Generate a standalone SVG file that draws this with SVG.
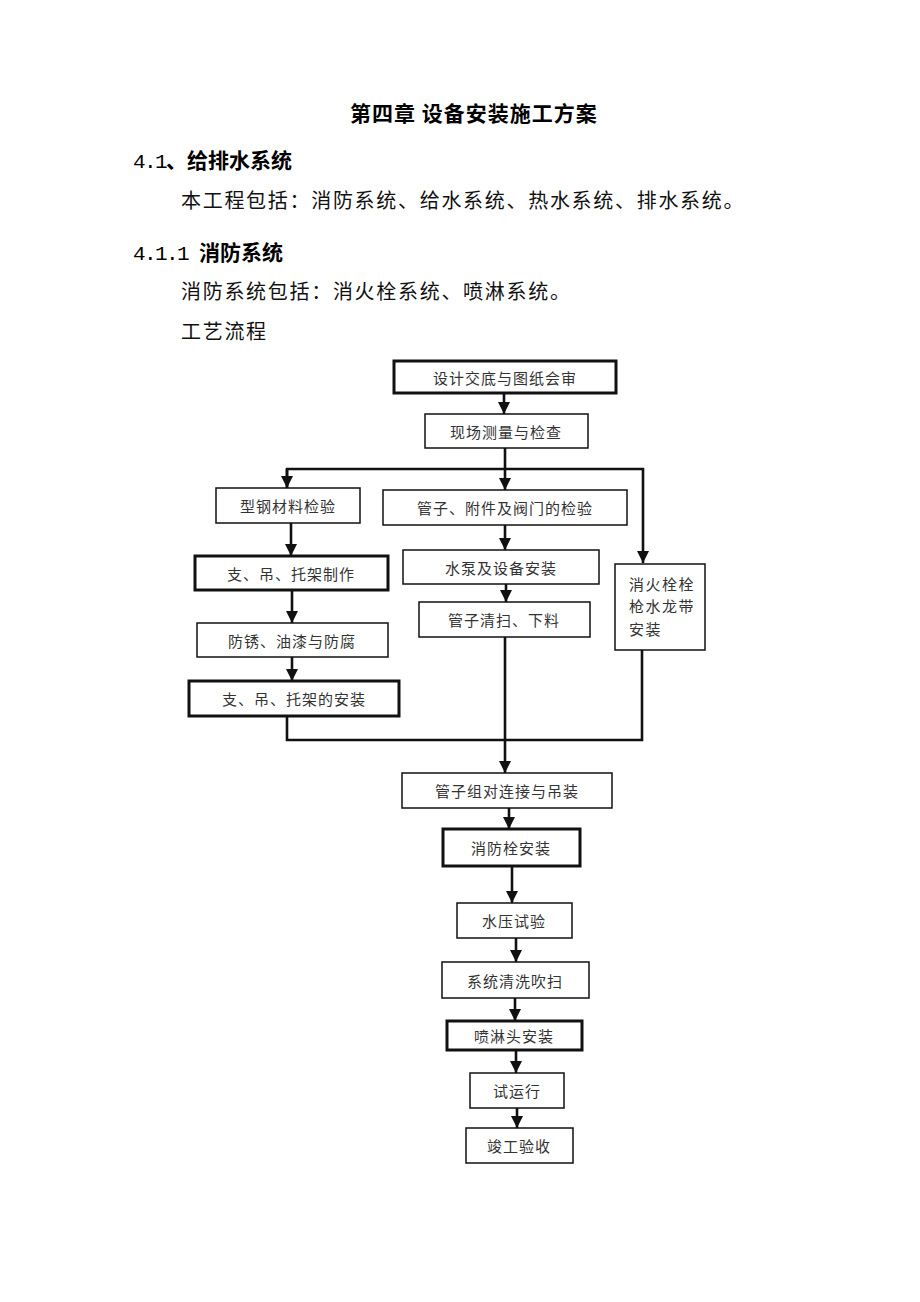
<svg xmlns="http://www.w3.org/2000/svg" width="920" height="1302" viewBox="0 0 920 1302">
<style>
.bg{fill:#ffffff}
.h{font-family:"Noto Sans CJK SC","Liberation Serif",sans-serif;font-size:21px;font-weight:bold;fill:#000}
.ttl{letter-spacing:1px}
.p{font-family:"Noto Sans CJK SC","Liberation Serif",sans-serif;font-size:20px;letter-spacing:1.7px;fill:#111}
.num{font-family:"Liberation Mono","Noto Sans CJK SC",monospace;font-size:21px;font-weight:normal;letter-spacing:-1.6px}
.box{fill:#fff;stroke:#111;stroke-width:1.5}
.tbox{fill:#fff;stroke:#111;stroke-width:3}
.t{font-family:"Noto Sans CJK SC",sans-serif;font-size:15px;letter-spacing:1px;fill:#333;text-anchor:middle;dominant-baseline:central}
.tl{font-family:"Noto Sans CJK SC",sans-serif;font-size:15px;letter-spacing:1.5px;fill:#333;dominant-baseline:central}
.ln{fill:none;stroke:#111;stroke-width:2.6}
</style>
<defs>
<marker id="ah" markerUnits="userSpaceOnUse" markerWidth="12" markerHeight="12" refX="10" refY="5" orient="auto" viewBox="0 0 10 10">
<path d="M0,0 L10,5 L0,10 Z" fill="#111"/>
</marker>
</defs>
<rect class="bg" x="0" y="0" width="920" height="1302"/>

<g id="headings">
<text class="h ttl" x="350" y="121">第四章 设备安装施工方案</text>
<text class="h" x="133" y="168"><tspan class="num">4.1</tspan>、给排水系统</text>
<text class="p" x="181" y="208">本工程包括：消防系统、给水系统、热水系统、排水系统。</text>
<text class="h" x="133" y="260"><tspan class="num">4.1.1 </tspan>消防系统</text>
<text class="p" x="181" y="299">消防系统包括：消火栓系统、喷淋系统。</text>
<text class="p" x="181" y="339">工艺流程</text>
</g>

<g id="connectors">
<line class="ln" x1="504" y1="393" x2="504" y2="414" marker-end="url(#ah)"/>
<line class="ln" x1="505" y1="448" x2="505" y2="490" marker-end="url(#ah)"/>
<polyline class="ln" points="287,488 287,469 643,469 643,563" marker-end="url(#ah)"/>
<line class="ln" x1="287" y1="469" x2="287" y2="488" marker-end="url(#ah)"/>
<line class="ln" x1="291" y1="523" x2="291" y2="556" marker-end="url(#ah)"/>
<line class="ln" x1="292" y1="590" x2="292" y2="623" marker-end="url(#ah)"/>
<line class="ln" x1="292" y1="657" x2="292" y2="681" marker-end="url(#ah)"/>
<polyline class="ln" points="287,716 287,740 642,740 642,650"/>
<line class="ln" x1="505" y1="525" x2="505" y2="550" marker-end="url(#ah)"/>
<line class="ln" x1="506" y1="584" x2="506" y2="602" marker-end="url(#ah)"/>
<line class="ln" x1="505" y1="637" x2="505" y2="773" marker-end="url(#ah)"/>
<line class="ln" x1="509" y1="808" x2="509" y2="829" marker-end="url(#ah)"/>
<line class="ln" x1="512" y1="866" x2="512" y2="903" marker-end="url(#ah)"/>
<line class="ln" x1="516" y1="938" x2="516" y2="962" marker-end="url(#ah)"/>
<line class="ln" x1="515" y1="998" x2="515" y2="1021" marker-end="url(#ah)"/>
<line class="ln" x1="516" y1="1050" x2="516" y2="1073" marker-end="url(#ah)"/>
<line class="ln" x1="517" y1="1108" x2="517" y2="1128" marker-end="url(#ah)"/>
</g>

<g id="n1"><rect class="tbox" x="394" y="361" width="222" height="32"/><text class="t" x="505" y="377">设计交底与图纸会审</text></g>
<g id="n2"><rect class="box" x="425" y="414" width="163" height="34"/><text class="t" x="506" y="431">现场测量与检查</text></g>
<g id="n3"><rect class="box" x="216" y="488" width="144" height="35"/><text class="t" x="288" y="505.5">型钢材料检验</text></g>
<g id="n4"><rect class="box" x="383" y="490" width="244" height="35"/><text class="t" x="505" y="507.5">管子、附件及阀门的检验</text></g>
<g id="n5"><rect class="tbox" x="195" y="556" width="193" height="34"/><text class="t" x="291" y="573">支、吊、托架制作</text></g>
<g id="n6"><rect class="box" x="403" y="550" width="196" height="34"/><text class="t" x="501" y="567">水泵及设备安装</text></g>
<g id="n7"><rect class="box" x="615" y="564" width="90" height="86"/>
<text class="tl" x="629" y="583">消火栓栓</text>
<text class="tl" x="629" y="605">枪水龙带</text>
<text class="tl" x="629" y="628">安装</text></g>
<g id="n8"><rect class="box" x="419" y="602" width="171" height="35"/><text class="t" x="504" y="619.5">管子清扫、下料</text></g>
<g id="n9"><rect class="box" x="197" y="623" width="191" height="34"/><text class="t" x="292" y="640">防锈、油漆与防腐</text></g>
<g id="n10"><rect class="tbox" x="189" y="681" width="210" height="35"/><text class="t" x="294" y="698.5">支、吊、托架的安装</text></g>
<g id="n11"><rect class="box" x="402" y="773" width="210" height="35"/><text class="t" x="507" y="790.5">管子组对连接与吊装</text></g>
<g id="n12"><rect class="tbox" x="443" y="829" width="137" height="37"/><text class="t" x="511" y="847.5">消防栓安装</text></g>
<g id="n13"><rect class="box" x="457" y="903" width="115" height="35"/><text class="t" x="514" y="920.5">水压试验</text></g>
<g id="n14"><rect class="box" x="442" y="962" width="147" height="36"/><text class="t" x="515" y="980">系统清洗吹扫</text></g>
<g id="n15"><rect class="tbox" x="447" y="1021" width="135" height="29"/><text class="t" x="514" y="1035.5">喷淋头安装</text></g>
<g id="n16"><rect class="box" x="470" y="1073" width="94" height="35"/><text class="t" x="517" y="1090.5">试运行</text></g>
<g id="n17"><rect class="box" x="466" y="1128" width="107" height="35"/><text class="t" x="519" y="1145.5">竣工验收</text></g>
</svg>
